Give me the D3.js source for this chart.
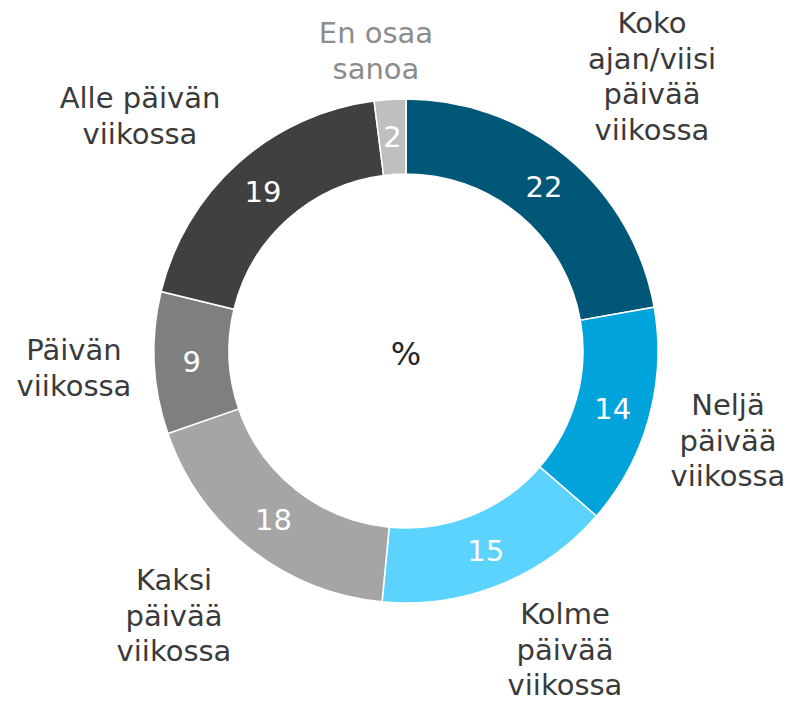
<!DOCTYPE html>
<html>
<head>
<meta charset="utf-8">
<script src="https://cdn.jsdelivr.net/npm/d3@7"></script>
<style>
  body { margin: 0; background: #fff; }
  text { font-family: "DejaVu Sans", Verdana, sans-serif; }
</style>
</head>
<body>
<svg id="chart" width="790" height="703"></svg>
<script>
// data, clockwise from 12 o'clock
const categories = [
  'Koko\najan/viisi\npäivää\nviikossa',
  'Neljä\npäivää\nviikossa',
  'Kolme\npäivää\nviikossa',
  'Kaksi\npäivää\nviikossa',
  'Päivän\nviikossa',
  'Alle päivän\nviikossa',
  'En osaa\nsanoa'
];
const values = [22, 14, 15, 18, 9, 19, 2];
const colors = ['#005777', '#00a3da', '#5cd3ff', '#a5a5a5', '#7f7f7f', '#404040', '#bfbfbf'];
const labelColors = ['#3a3a3a', '#3a3a3a', '#3a3a3a', '#3a3a3a', '#3a3a3a', '#3a3a3a', '#8c8c8c'];

// where each outside label block sits (x centre, first baseline)
const labelSpots = [[652, 33], [728, 415], [565, 624], [174, 590], [74, 360], [140, 108], [376, 43]];

const cx = 406, cy = 351;
const outerR = 252, innerR = 177;
const lineGap = 35.5;

const svg = d3.select('#chart');
const g = svg.append('g').attr('transform', `translate(${cx},${cy})`);

const pie = d3.pie().sort(null).value(d => d);
const arc = d3.arc().innerRadius(innerR).outerRadius(outerR);

const slices = pie(values);

g.selectAll('path')
  .data(slices)
  .enter()
  .append('path')
  .attr('d', arc)
  .attr('fill', (d, i) => colors[i])
  .attr('stroke', '#fff')
  .attr('stroke-width', 1.5);

g.selectAll('text.val')
  .data(slices)
  .enter()
  .append('text')
  .attr('class', 'val')
  .attr('transform', d => `translate(${arc.centroid(d)})`)
  .attr('dy', '0.36em')
  .attr('text-anchor', 'middle')
  .attr('font-size', 29)
  .attr('fill', '#fff')
  .text(d => d.data);

g.append('text')
  .attr('text-anchor', 'middle')
  .attr('y', 14)
  .attr('font-size', 32)
  .attr('fill', '#262626')
  .text('%');

const labels = svg.selectAll('text.cat')
  .data(categories)
  .enter()
  .append('text')
  .attr('class', 'cat')
  .attr('text-anchor', 'middle')
  .attr('font-size', 29)
  .attr('fill', (d, i) => labelColors[i]);

labels.each(function(d, i) {
  const [x, y] = labelSpots[i];
  d3.select(this).selectAll('tspan')
    .data(d.split('\n'))
    .enter()
    .append('tspan')
    .attr('x', x)
    .attr('y', (line, j) => y + j * lineGap)
    .text(line => line);
});
</script>
</body>
</html>
